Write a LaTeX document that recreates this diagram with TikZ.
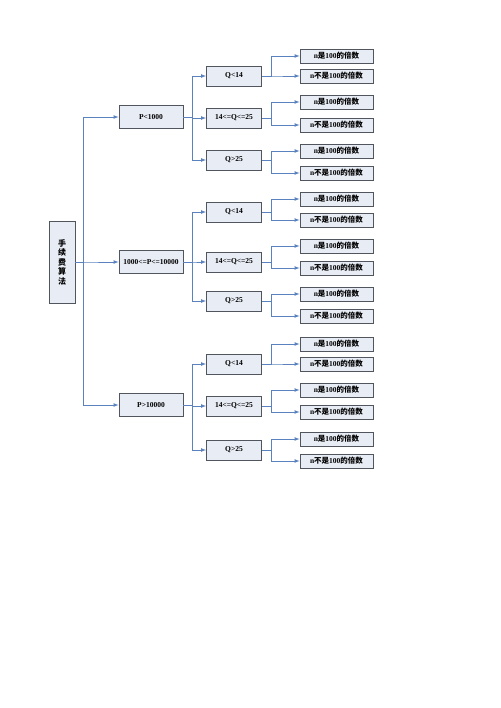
\documentclass[tikz,border=0pt]{standalone}
\usepackage{fontspec}
\setmainfont{Liberation Serif}
\newfontfamily\cjk{Noto Sans CJK SC}
\usepackage{tikz}
\usetikzlibrary{arrows,shapes,shadows}
\definecolor{boxfill}{HTML}{E8ECF5}
\definecolor{boxline}{HTML}{50555E}
\definecolor{linkblue}{HTML}{5A82BE}
\tikzstyle{box}=[rectangle, draw=boxline
,fill=boxfill
,line width=0.8pt
,inner sep=0pt
,drop shadow={shadow xshift=0.7pt, shadow yshift=-0.7pt, fill=black!55, opacity=1}
,font=\bfseries\fontsize{7.5}{9}\selectfont
]
\tikzstyle{rootbox}=[box, minimum width=26pt, minimum height=82pt, align=center
,font=\bfseries\fontsize{8}{9.5}\selectfont]
\tikzstyle{pbox}=[box, minimum width=64pt, minimum height=23pt]
\tikzstyle{qbox}=[box, minimum width=55pt, minimum height=20pt]
\tikzstyle{leaf}=[box, minimum width=73pt, minimum height=14pt]
\tikzstyle{edge} = [draw,linkblue,line width=0.7pt,-latex]
\newcommand{\isMult}{n{\cjk 是}100{\cjk 的倍数}}
\newcommand{\notMult}{n{\cjk 不是}100{\cjk 的倍数}}

\begin{document}
\begin{tikzpicture}[x=1pt,y=-1pt]
    \useasboundingbox (0,0) rectangle (500,708);
    % fee calculation tree
    % root and first split on P
    \node[rootbox] (root) at (62,262) {\cjk 手\\\cjk 续\\\cjk 费\\\cjk 算\\\cjk 法};
    \foreach \pos/\name/\txt in {{(151,117)/p1/{P<1000}}, {(151,262)/p2/{1000<=P<=10000}}, {(151,405)/p3/{P>10000}}}
        \node[pbox] (\name) at \pos {\txt};
    % second split on Q
    \foreach \pos/\name/\txt in {{(234,76)/q1/{Q<14}}, {(234,118)/q2/{14<=Q<=25}}, {(234,160)/q3/{Q>25}},
                                 {(234,212)/q4/{Q<14}}, {(234,262)/q5/{14<=Q<=25}}, {(234,301)/q6/{Q>25}},
                                 {(234,364)/q7/{Q<14}}, {(234,406)/q8/{14<=Q<=25}}, {(234,450)/q9/{Q>25}}}
        \node[qbox] (\name) at \pos {\txt};
    % leaves
    \foreach \i/\ya/\yb in {1/56/76, 2/102/125, 3/151/173, 4/199/220, 5/246/268,
                            6/294/316, 7/344/364, 8/390/412, 9/439/461} {
        \node[leaf] (n\i a) at (336.5,\ya) {\isMult};
        \node[leaf] (n\i b) at (336.5,\yb) {\notMult};
    }
    % Connect the nodes
    \foreach \dest in {p1, p2, p3}
        \path[edge] (root.east) -- (83,0 |- root.east) |- (\dest.west);
    \foreach \source/\dest in {p1/q1, p1/q2, p1/q3, p2/q4, p2/q5, p2/q6, p3/q7, p3/q8, p3/q9}
        \path[edge] (\source.east) -- (192,0 |- \source.east) |- (\dest.west);
    \foreach \i in {1,...,9} {
        \path[edge] (q\i.east) -- (271,0 |- q\i.east) |- (n\i a.west);
        \path[edge] (q\i.east) -- (271,0 |- q\i.east) |- (n\i b.west);
    }
\end{tikzpicture}
\end{document}
